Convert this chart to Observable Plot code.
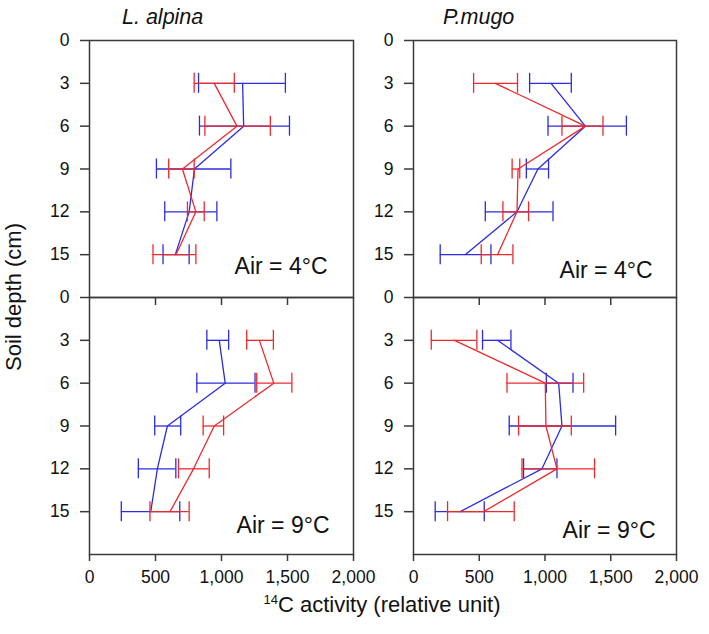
<!DOCTYPE html>
<html>
<head>
<meta charset="utf-8">
<script src="https://cdn.jsdelivr.net/npm/d3@7"></script>
<script src="https://cdn.jsdelivr.net/npm/@observablehq/plot@0.6"></script>
<style>
  html, body { margin: 0; padding: 0; background: #fff; }
  #wrap { position: relative; width: 709px; height: 634px; overflow: hidden; font-family: "Liberation Sans", Arial, sans-serif; color: #111; }
  .abs { position: absolute; }
  .title { font-size: 21.5px; font-style: italic; white-space: nowrap; }
  .axlab { font-size: 22px; white-space: nowrap; }
</style>
</head>
<body>
<div id="wrap"></div>
<script>
// ---- data ----
const depths = [3, 6, 9, 12, 15];
const xTicks = [0, 500, 1000, 1500, 2000];
const yTicks = [0, 3, 6, 9, 12, 15];
const innerTicks = [500, 1000, 1500];
const speciesNames = ["L. alpina", "P.mugo"];
const airLabels = ["Air = 4°C", "Air = 9°C"];

// L. alpina, Air = 4°C
const alpina4RedMean = [945, 1117, 704, 806, 655];
const alpina4RedLo   = [793, 874, 600, 742, 481];
const alpina4RedHi   = [1097, 1370, 793, 869, 806];
const alpina4BlueMean = [1160, 1168, 795, 755, 650];
const alpina4BlueLo   = [826, 833, 507, 570, 557];
const alpina4BlueHi   = [1484, 1515, 1071, 965, 755];

// P.mugo, Air = 4°C
const mugo4RedMean = [622, 1307, 795, 787, 639];
const mugo4RedLo   = [457, 1129, 750, 680, 515];
const mugo4RedHi   = [791, 1441, 808, 875, 756];
const mugo4BlueMean = [1046, 1307, 946, 787, 393];
const mugo4BlueLo   = [883, 1023, 858, 546, 203];
const mugo4BlueHi   = [1200, 1619, 1027, 1061, 589];

// L. alpina, Air = 9°C
const alpina9RedMean = [1287, 1396, 945, 788, 610];
const alpina9RedLo   = [1191, 1267, 861, 674, 458];
const alpina9RedHi   = [1393, 1533, 1016, 907, 755];
const alpina9BlueMean = [983, 1028, 590, 514, 464];
const alpina9BlueLo   = [889, 813, 494, 370, 241];
const alpina9BlueHi   = [1054, 1254, 691, 654, 684];

// P.mugo, Air = 9°C
const mugo9RedMean = [312, 1002, 1007, 1091, 533];
const mugo9RedLo   = [135, 711, 799, 825, 259];
const mugo9RedHi   = [482, 1294, 1200, 1377, 766];
const mugo9BlueMean = [639, 1104, 1129, 977, 355];
const mugo9BlueLo   = [525, 1010, 728, 837, 165];
const mugo9BlueHi   = [741, 1213, 1537, 1091, 538];

const RED = "#ec2a2e";
const BLUE = "#2c2ce0";
const AXIS = "#3a3a3a";
const FONT = '"Liberation Sans", Arial, sans-serif';

function rows(mean, lo, hi) {
  return depths.map((d, i) => ({depth: d, mean: mean[i], lo: lo[i], hi: hi[i]}));
}

function seriesMarks(data, color) {
  const cap = 0.7;
  return [
    Plot.ruleY(data, {y: "depth", x1: "lo", x2: "hi", stroke: color, strokeWidth: 1.3}),
    Plot.ruleX(data, {x: "lo", y1: d => d.depth - cap, y2: d => d.depth + cap, stroke: color, strokeWidth: 1.3}),
    Plot.ruleX(data, {x: "hi", y1: d => d.depth - cap, y2: d => d.depth + cap, stroke: color, strokeWidth: 1.3}),
    Plot.line(data, {x: "mean", y: "depth", stroke: color, strokeWidth: 1.3})
  ];
}

function panel({blue, red, label, bottom, mL, mR, mT, mB, w, h, tdx, tdy}) {
  const marks = [
    Plot.frame({stroke: AXIS, strokeWidth: 1.5}),
    Plot.axisY({ticks: yTicks, tickSize: 9, tickPadding: 11, label: null, stroke: AXIS, strokeWidth: 1.5, fontSize: 17.5})
  ];
  if (bottom) {
    marks.push(Plot.axisX({anchor: "bottom", ticks: xTicks, tickSize: 7, tickPadding: 9, tickFormat: d3.format(","), label: null, stroke: AXIS, strokeWidth: 1.5, fontSize: 17.5}));
    marks.push(Plot.axisX({anchor: "top", ticks: innerTicks, tickSize: -7, tickFormat: () => "", label: null, stroke: AXIS, strokeWidth: 1.5}));
  }
  marks.push(...seriesMarks(blue, BLUE), ...seriesMarks(red, RED));
  marks.push(Plot.text([label], {frameAnchor: "bottom-right", textAnchor: "end", lineAnchor: "bottom", dx: tdx, dy: tdy, fontSize: 23, fill: "#111"}));
  return Plot.plot({
    width: w, height: h,
    marginLeft: mL, marginRight: mR, marginTop: mT, marginBottom: mB,
    x: {domain: [0, 2000], axis: bottom ? undefined : null},
    y: {domain: [0, 18], reverse: true},
    style: {background: "transparent", overflow: "visible", fontFamily: FONT, fontSize: "17.5px", color: "#111"},
    marks
  });
}

const wrap = document.getElementById("wrap");
function place(node, left, top) {
  node.style.position = "absolute";
  node.style.left = left + "px";
  node.style.top = top + "px";
  wrap.appendChild(node);
}

// frames: left x 89-353, right x 413-676; top y 40-297, bottom y 297-554
place(panel({blue: rows(alpina4BlueMean, alpina4BlueLo, alpina4BlueHi), red: rows(alpina4RedMean, alpina4RedLo, alpina4RedHi),
  label: airLabels[0], bottom: false, w: 383, h: 268, mL: 89, mR: 30, mT: 10, mB: 1, tdx: -26, tdy: -24}), 0, 30);
place(panel({blue: rows(mugo4BlueMean, mugo4BlueLo, mugo4BlueHi), red: rows(mugo4RedMean, mugo4RedLo, mugo4RedHi),
  label: airLabels[0], bottom: false, w: 354, h: 268, mL: 58, mR: 33, mT: 10, mB: 1, tdx: -24, tdy: -20}), 355, 30);
place(panel({blue: rows(alpina9BlueMean, alpina9BlueLo, alpina9BlueHi), red: rows(alpina9RedMean, alpina9RedLo, alpina9RedHi),
  label: airLabels[1], bottom: true, w: 383, h: 344, mL: 89, mR: 30, mT: 7, mB: 80, tdx: -24, tdy: -22}), 0, 290);
place(panel({blue: rows(mugo9BlueMean, mugo9BlueLo, mugo9BlueHi), red: rows(mugo9RedMean, mugo9RedLo, mugo9RedHi),
  label: airLabels[1], bottom: true, w: 354, h: 344, mL: 58, mR: 33, mT: 7, mB: 80, tdx: -21, tdy: -17}), 355, 290);

// titles and axis labels
function addText(html, cls, css) {
  const d = document.createElement("div");
  d.className = "abs " + cls;
  d.innerHTML = html;
  Object.assign(d.style, css);
  wrap.appendChild(d);
  return d;
}
addText(speciesNames[0], "title", {left: "122px", top: "5px"});
addText(speciesNames[1], "title", {left: "443px", top: "5px"});
addText("Soil depth (cm)", "axlab", {left: "14px", top: "297px", transform: "translate(-50%, -50%) rotate(-90deg)"});
addText('<sup style="font-size:13px">14</sup>C activity (relative unit)', "axlab", {left: "382px", top: "605px", transform: "translate(-50%, -50%)"});
</script>
</body>
</html>
